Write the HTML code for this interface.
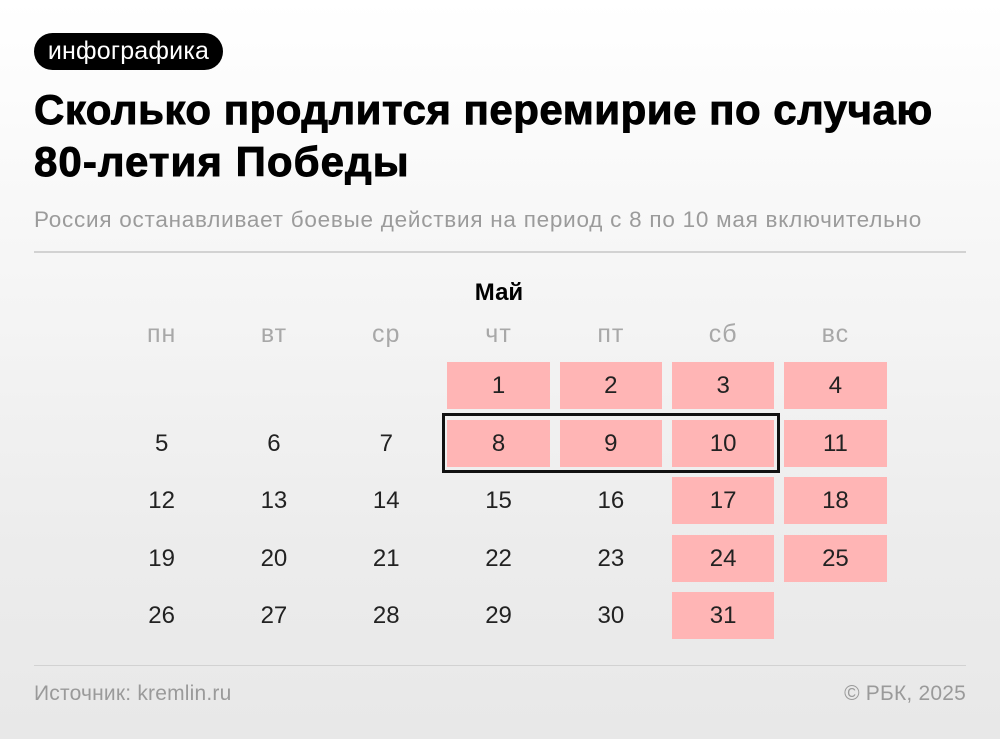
<!DOCTYPE html>
<html><head><meta charset="utf-8"><style>
html,body{margin:0;padding:0}
body{width:1000px;height:739px;position:relative;overflow:hidden;background:linear-gradient(180deg,#ffffff 0%,#f6f6f6 35%,#ececec 75%,#e8e8e8 100%);font-family:"Liberation Sans","DejaVu Sans",sans-serif}
.a{position:absolute;white-space:nowrap}
.badge{left:34px;top:33px;width:189px;height:37px;border-radius:19px;background:#000}
.bt{left:34px;width:189px;top:38.8px;font-size:25px;line-height:25px;color:#fff;text-align:center;letter-spacing:0.2px}
.title{left:34px;top:84.4px;font-size:42px;line-height:52px;font-weight:bold;color:#000;letter-spacing:0.5px;-webkit-text-stroke:0.9px #000}
.sub{left:34px;top:208.5px;font-size:22.5px;line-height:22px;color:#9b9b9b;letter-spacing:0.75px}
.hr{left:34px;width:932px;height:1.5px;background:#d2d2d2}
.may{left:449px;width:100px;text-align:center;top:281.4px;font-size:24px;line-height:24px;font-weight:bold;color:#000}
.dh{width:102.5px;text-align:center;top:322px;font-size:25px;line-height:24px;color:#a8a8a8;letter-spacing:1px}
.c{width:102.5px;height:47px;text-align:center;font-size:24px;line-height:47px;color:#222}
.p{background:#ffb5b5}
.box{left:442px;top:413.3px;width:332px;height:54px;border:3px solid #111}
.foot{top:683px;font-size:21px;line-height:21px;color:#9a9a9a;letter-spacing:0.2px}
</style></head><body>
<div class="a badge"></div>
<div class="a bt">инфографика</div>
<div class="a title">Сколько продлится перемирие по случаю<br><span style="letter-spacing:1.05px">80-летия Победы</span></div>
<div class="a sub">Россия останавливает боевые действия на период с 8 по 10 мая включительно</div>
<div class="a hr" style="top:251px"></div>
<div class="a may">Май</div>

<div class="a dh" style="left:110.4px">пн</div>
<div class="a dh" style="left:222.7px">вт</div>
<div class="a dh" style="left:335px">ср</div>
<div class="a dh" style="left:447.3px">чт</div>
<div class="a dh" style="left:559.6px">пт</div>
<div class="a dh" style="left:671.9px">сб</div>
<div class="a dh" style="left:784.2px">вс</div>

<!-- row 1 -->
<div class="a c p" style="left:447.3px;top:362px">1</div>
<div class="a c p" style="left:559.6px;top:362px">2</div>
<div class="a c p" style="left:671.9px;top:362px">3</div>
<div class="a c p" style="left:784.2px;top:362px">4</div>
<!-- row 2 -->
<div class="a c" style="left:110.4px;top:419.6px">5</div>
<div class="a c" style="left:222.7px;top:419.6px">6</div>
<div class="a c" style="left:335px;top:419.6px">7</div>
<div class="a c p" style="left:447.3px;top:419.6px">8</div>
<div class="a c p" style="left:559.6px;top:419.6px">9</div>
<div class="a c p" style="left:671.9px;top:419.6px">10</div>
<div class="a c p" style="left:784.2px;top:419.6px">11</div>
<!-- row 3 -->
<div class="a c" style="left:110.4px;top:477.2px">12</div>
<div class="a c" style="left:222.7px;top:477.2px">13</div>
<div class="a c" style="left:335px;top:477.2px">14</div>
<div class="a c" style="left:447.3px;top:477.2px">15</div>
<div class="a c" style="left:559.6px;top:477.2px">16</div>
<div class="a c p" style="left:671.9px;top:477.2px">17</div>
<div class="a c p" style="left:784.2px;top:477.2px">18</div>
<!-- row 4 -->
<div class="a c" style="left:110.4px;top:534.8px">19</div>
<div class="a c" style="left:222.7px;top:534.8px">20</div>
<div class="a c" style="left:335px;top:534.8px">21</div>
<div class="a c" style="left:447.3px;top:534.8px">22</div>
<div class="a c" style="left:559.6px;top:534.8px">23</div>
<div class="a c p" style="left:671.9px;top:534.8px">24</div>
<div class="a c p" style="left:784.2px;top:534.8px">25</div>
<!-- row 5 -->
<div class="a c" style="left:110.4px;top:592.4px">26</div>
<div class="a c" style="left:222.7px;top:592.4px">27</div>
<div class="a c" style="left:335px;top:592.4px">28</div>
<div class="a c" style="left:447.3px;top:592.4px">29</div>
<div class="a c" style="left:559.6px;top:592.4px">30</div>
<div class="a c p" style="left:671.9px;top:592.4px">31</div>

<div class="a box"></div>

<div class="a hr" style="top:664.5px"></div>
<div class="a foot" style="left:34px">Источник: kremlin.ru</div>
<div class="a foot" style="right:34px">© РБК, 2025</div>
</body></html>
